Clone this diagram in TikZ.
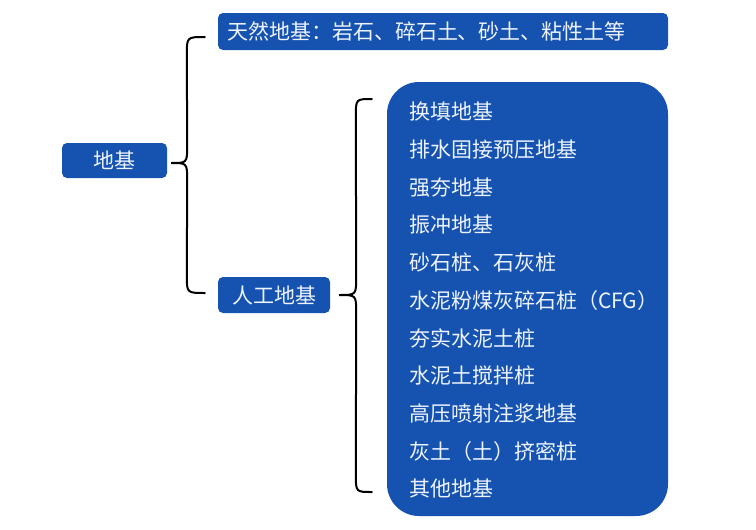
\documentclass[tikz,border=0pt]{standalone}
\usepackage{fontspec}
\newfontfamily\cjkfont{Noto Sans CJK SC}
\usetikzlibrary{calc}
\definecolor{BaseBlue}{RGB}{22, 82, 176}
\definecolor{LabelWhite}{RGB}{238, 244, 255}
\tikzset{
  box/.style={rectangle, rounded corners=5pt, fill=BaseBlue, text=LabelWhite,
              font=\cjkfont\fontsize{21}{25}\selectfont, inner sep=0pt},
  listbox/.style={rectangle, rounded corners=32pt, fill=BaseBlue, inner sep=0pt},
  item/.style={anchor=west, text=LabelWhite, inner sep=0pt,
               font=\cjkfont\fontsize{21}{25}\selectfont},
  brace/.style={draw=black, line width=2pt, line cap=round},
}

\begin{document}
\begin{tikzpicture}[x=1pt, y=-1pt]
  \useasboundingbox[fill=white] (0,0) rectangle (756,530);

  % boxes
  \node[box, minimum width=105pt, minimum height=35pt] (d) at (114.5,160.5) {地基};
  \node[box, minimum width=450pt, minimum height=37pt, text width=432pt, align=left]
       (n) at (443,31.5) {天然地基：岩石、碎石土、砂土、粘性土等};
  \node[box, minimum width=112pt, minimum height=36pt] (r) at (274,295) {人工地基};
  \node[listbox, minimum width=281pt, minimum height=434pt] (g) at (527.5,299) {};

  % list of artificial foundations
  \foreach \txt [count=\i] in {换填地基, 排水固接预压地基, 强夯地基, 振冲地基,
      砂石桩、石灰桩, 水泥粉煤灰碎石桩（CFG）, 夯实水泥土桩, 水泥土搅拌桩,
      高压喷射注浆地基, 灰土（土）挤密桩, 其他地基}
    \node[item] (i\i) at ($(g.north west)+(22,30+37.7*\i-37.7)$) {\txt};

  % brace 1
  \coordinate (t1) at ($(d.east)+(4,2.5)$);
  \coordinate (a1) at ($(n.west)+(-13,5.5)$);
  \coordinate (b1) at ($(r.west)+(-13,-2)$);
  \draw[brace] (a1) .. controls ($(a1)+(-18,0)$) .. ($(a1)+(-18,18)$)
    -- ($(t1)+(16,-18)$) .. controls ($(t1)+(16,0)$) .. (t1)
    .. controls ($(t1)+(16,0)$) .. ($(t1)+(16,18)$)
    -- ($(b1)+(-18,-18)$) .. controls ($(b1)+(-18,0)$) .. (b1);

  % brace 2
  \coordinate (t2) at ($(r.east)+(9,0)$);
  \coordinate (a2) at ($(g.west)+(-15,-200)$);
  \coordinate (b2) at ($(g.west)+(-15,193)$);
  \draw[brace] (a2) .. controls ($(a2)+(-16,0)$) .. ($(a2)+(-16,18)$)
    -- ($(t2)+(17,-18)$) .. controls ($(t2)+(17,0)$) .. (t2)
    .. controls ($(t2)+(17,0)$) .. ($(t2)+(17,18)$)
    -- ($(b2)+(-16,-18)$) .. controls ($(b2)+(-16,0)$) .. (b2);
\end{tikzpicture}
\end{document}
